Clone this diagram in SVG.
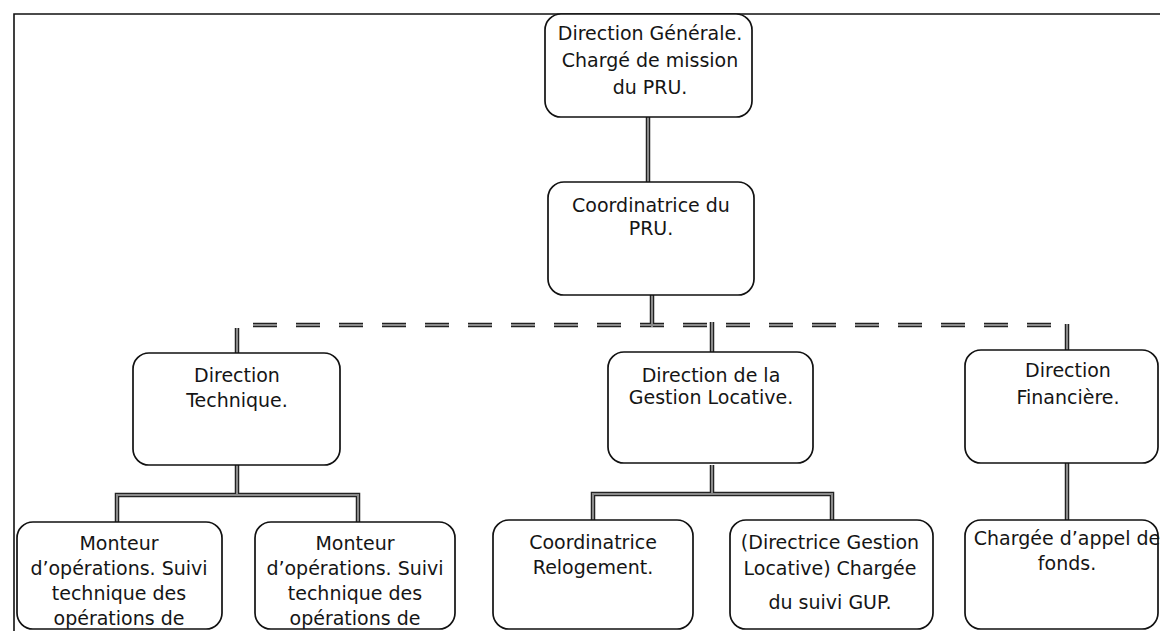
<svg xmlns="http://www.w3.org/2000/svg" width="1160" height="631" viewBox="0 0 1160 631">
<style>
.box{fill:#fff;stroke:#111;stroke-width:1.7}
.t{font-family:"DejaVu Sans",Verdana,sans-serif;font-size:19px;fill:#151515;text-anchor:middle}
.co{fill:none;stroke:#222;stroke-width:4.5}
.ci{fill:none;stroke:#8a8a8a;stroke-width:2}
.frame{fill:none;stroke:#111;stroke-width:1.6}
</style>
<rect width="1160" height="631" fill="#fff"/>
<path class="frame" d="M14,631 V14 H1160"/>
<g id="connectors">
  <g class="co">
    <path d="M648,117 V182"/>
    <path d="M652,295 V327"/>
    <path d="M253,325 H1052" stroke-dasharray="24 19"/>
    <path d="M237,328 V353"/>
    <path d="M712,322 V352"/>
    <path d="M1067,324 V350"/>
    <path d="M237,465 V495 M117,522 V495 H358 V522"/>
    <path d="M712,465 V494 M593,520 V494 H832 V520"/>
    <path d="M1067,463 V520"/>
  </g>
  <g class="ci">
    <path d="M648,117 V182"/>
    <path d="M652,295 V327"/>
    <path d="M253,325 H1052" stroke-dasharray="24 19"/>
    <path d="M237,328 V353"/>
    <path d="M712,322 V352"/>
    <path d="M1067,324 V350"/>
    <path d="M237,465 V495 M117,522 V495 H358 V522"/>
    <path d="M712,465 V494 M593,520 V494 H832 V520"/>
    <path d="M1067,463 V520"/>
  </g>
</g>
<g id="n-dg">
  <rect class="box" x="545" y="14" width="207" height="103" rx="16"/>
  <text class="t" x="650" y="40">Direction Générale.</text>
  <text class="t" x="650" y="67">Chargé de mission</text>
  <text class="t" x="650" y="94">du PRU.</text>
</g>
<g id="n-coord">
  <rect class="box" x="548" y="182" width="206" height="113" rx="16"/>
  <text class="t" x="651" y="212">Coordinatrice du</text>
  <text class="t" x="651" y="235">PRU.</text>
</g>
<g id="n-dt">
  <rect class="box" x="133" y="353" width="207" height="112" rx="16"/>
  <text class="t" x="237" y="382">Direction</text>
  <text class="t" x="237" y="407">Technique.</text>
</g>
<g id="n-dgl">
  <rect class="box" x="608" y="352" width="205" height="111" rx="16"/>
  <text class="t" x="711" y="382">Direction de la</text>
  <text class="t" x="711" y="404">Gestion Locative.</text>
</g>
<g id="n-df">
  <rect class="box" x="965" y="350" width="193" height="113" rx="16"/>
  <text class="t" x="1068" y="377">Direction</text>
  <text class="t" x="1068" y="404">Financière.</text>
</g>
<g id="n-m1">
  <rect class="box" x="17" y="522" width="205" height="107" rx="16"/>
  <text class="t" x="119" y="550">Monteur</text>
  <text class="t" x="119" y="575">d’opérations. Suivi</text>
  <text class="t" x="119" y="600">technique des</text>
  <text class="t" x="119" y="625">opérations de</text>
</g>
<g id="n-m2">
  <rect class="box" x="255" y="522" width="200" height="107" rx="16"/>
  <text class="t" x="355" y="550">Monteur</text>
  <text class="t" x="355" y="575">d’opérations. Suivi</text>
  <text class="t" x="355" y="600">technique des</text>
  <text class="t" x="355" y="625">opérations de</text>
</g>
<g id="n-cr">
  <rect class="box" x="493" y="520" width="200" height="109" rx="16"/>
  <text class="t" x="593" y="549">Coordinatrice</text>
  <text class="t" x="593" y="574">Relogement.</text>
</g>
<g id="n-gup">
  <rect class="box" x="730" y="520" width="203" height="109" rx="16"/>
  <text class="t" x="830" y="549">(Directrice Gestion</text>
  <text class="t" x="830" y="575">Locative) Chargée</text>
  <text class="t" x="830" y="609">du suivi GUP.</text>
</g>
<g id="n-caf">
  <rect class="box" x="965" y="520" width="193" height="109" rx="16"/>
  <text class="t" x="1067" y="545">Chargée d’appel de</text>
  <text class="t" x="1067" y="570">fonds.</text>
</g>
</svg>
